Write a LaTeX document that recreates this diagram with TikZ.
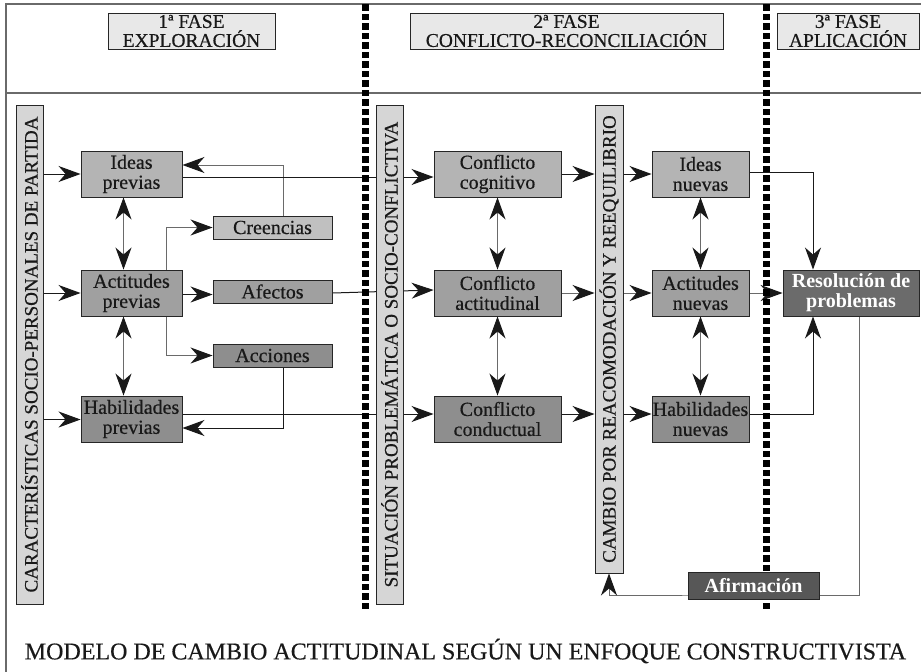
\documentclass[tikz,border=0pt]{standalone}
\usepackage{fontspec}
\setmainfont{Liberation Serif}[UprightFeatures={FakeBold=0.5}]
\usetikzlibrary{arrows.meta}
\definecolor{framegray}{HTML}{6A6A6A}
\definecolor{linedark}{HTML}{1A1A1A}
\definecolor{linegray}{HTML}{6A6A6A}
\definecolor{hdrfill}{HTML}{E8E8E8}
\definecolor{vertfill}{HTML}{D6D6D6}
\definecolor{lightfill}{HTML}{B4B4B4}
\definecolor{crefill}{HTML}{C0C0C0}
\definecolor{midfill}{HTML}{A0A0A0}
\definecolor{darkfill}{HTML}{8E8E8E}
\definecolor{resfill}{HTML}{6B6B6B}
\definecolor{afifill}{HTML}{575757}
\begin{document}
\begin{tikzpicture}[x=1pt,y=-1pt,
  box/.style={draw=black!85, line width=0.9pt, inner sep=0pt, align=center, text=black!90,
    font=\fontsize{20}{20}\selectfont},
  hdr/.style={box, fill=hdrfill, minimum height=36, font=\fontsize{19.5}{19}\selectfont},
  vert/.style={box, fill=vertfill, rotate=90, font=\fontsize{19}{19}\selectfont},
  big/.style={box, minimum height=46},
  small/.style={box, minimum width=119, minimum height=23},
  wbox/.style={box, text=white, font=\bfseries\fontsize{20}{20}\selectfont},
  tip/.tip={Stealth[length=22pt,width=16pt,inset=7pt,color=black!90]},
  arr/.style={-tip, line width=1pt, draw=linedark},
  darr/.style={tip-tip, line width=1pt, draw=linegray},
  sq/.style={fill=black}
]
\useasboundingbox (0,0) rectangle (921,672);
% frame
\draw[framegray, line width=2pt] (6,672) -- (6,4) -- (921,4);
\draw[framegray, line width=2.5pt] (6,93) -- (921,93);

% headers
\node[hdr, minimum width=167] (h1) at (191.5,31) {1ª FASE\\EXPLORACIÓN};
\node[hdr, minimum width=313] (h2) at (566.5,31) {2ª FASE\\CONFLICTO-RECONCILIACIÓN};
\node[hdr, minimum width=142] (h3) at (848,31) {3ª FASE\\APLICACIÓN};

% node positions (named, drawn again on top later)
\path
  (131.5,174) node[big, minimum width=101, fill=lightfill] (ip) {Ideas\\previas}
  (131.5,293) node[big, minimum width=101, fill=midfill] (ap) {Actitudes\\previas}
  (131.5,419) node[big, minimum width=101, fill=darkfill] (hp) {Habilidades\\previas}
  (272.5,227.5) node[small, fill=crefill] (cre) {Creencias}
  (272.5,291.5) node[small, fill=midfill] (afe) {Afectos}
  (272.5,355.5) node[small, fill=darkfill] (acc) {Acciones}
  (497.5,174) node[big, minimum width=127, fill=lightfill] (cc) {Conflicto\\cognitivo}
  (497.5,293) node[big, minimum width=127, fill=midfill] (ca) {Conflicto\\actitudinal}
  (497.5,419) node[big, minimum width=127, fill=darkfill] (cd) {Conflicto\\conductual}
  (700.5,174) node[big, minimum width=97, fill=lightfill] (in) {Ideas\\nuevas}
  (700.5,293) node[big, minimum width=97, fill=midfill] (an) {Actitudes\\nuevas}
  (700.5,419) node[big, minimum width=97, fill=darkfill] (hn) {Habilidades\\nuevas}
  (851,293) node[wbox, minimum width=136, minimum height=46, fill=resfill] (res) {Resolución de\\problemas}
  (29.5,354.5) node[vert, minimum width=499, minimum height=27] (v1) {CARACTERÍSTICAS SOCIO-PERSONALES DE PARTIDA}
  (389.5,354.5) node[vert, minimum width=499, minimum height=27] (v2) {SITUACIÓN PROBLEMÁTICA O SOCIO-CONFLICTIVA}
  (609,339) node[vert, minimum width=468, minimum height=28] (v3) {CAMBIO POR REACOMODACIÓN Y REEQUILIBRIO};

% connectors
\draw[arr] (v1.south |- ip.west) -- (ip.west);
\draw[arr] (v1.south |- ap.west) -- (ap.west);
\draw[arr] ([yshift=-0.5pt]v1.south |- hp.west) -- ([yshift=-0.5pt]hp.west);
\draw[darr] ([xshift=-8pt]ip.south) -- ([xshift=-8pt]ap.north);
\draw[darr] ([xshift=-8pt]ap.south) -- ([xshift=-8pt]hp.north);
\draw[arr, draw=linegray] ([xshift=34.5pt]ap.north) |- (cre.west);
\draw[arr, draw=linegray] ([xshift=34.5pt]ap.south) |- (acc.west);
\draw[arr] ([yshift=-1.5pt]ap.east) -- ([yshift=-1.5pt]ap.east -| afe.west);
\draw[arr, draw=linegray] ([xshift=10.5pt]cre.north) |- ([yshift=9pt]ip.east);
\draw[arr] ([xshift=10.5pt]acc.south) |- ([yshift=-9pt]hp.east);
\draw[arr] ([yshift=-3pt]ip.east) -- ([yshift=-3pt]cc.west);
\draw[arr] ([yshift=-1.5pt]afe.east) -- ([yshift=1.5pt]afe.east -| ca.west);
\draw[arr] ([yshift=5pt]hp.east) -- ([yshift=5pt]cd.west);
\draw[darr] (cc.south) -- (ca.north);
\draw[darr] (ca.south) -- (cd.north);
\draw[arr] (cc.east) -- (cc.east -| v3.north);
\draw[arr, draw=linegray] (ca.east) -- (ca.east -| v3.north);
\draw[arr] ([yshift=5pt]cd.east) -- ([yshift=5pt]cd.east -| v3.north);
\draw[arr] (in.west -| v3.south) -- (in.west);
\draw[arr, draw=linegray] (an.west -| v3.south) -- (an.west);
\draw[arr] ([yshift=5pt]hn.west -| v3.south) -- ([yshift=5pt]hn.west);
\draw[darr] (in.south) -- (an.north);
\draw[darr] (an.south) -- (hn.north);
\draw[arr] ([yshift=2pt]in.east) -| ([xshift=-38pt]res.north);
\draw[arr, draw=linegray] (an.east) -- (res.west);
\draw[arr] ([yshift=5pt]hn.east) -| ([xshift=-38pt]res.south);
\coordinate (afc) at (753.5,585.5);
\draw[arr, draw=linegray] ([xshift=8pt]res.south) |- ([yshift=-9.5pt]afc) -| (v3.west);

% dotted separators (square dots)
\foreach \yy in {4,13.5,...,604} \fill[sq] (361.5,\yy) rectangle (368.5,\yy+6.5);
\foreach \yy in {4,13.5,...,604} \fill[sq] (762.5,\yy) rectangle (769.5,\yy+6.5);

% redraw nodes on top
\path
  (131.5,174) node[big, minimum width=101, fill=lightfill] {Ideas\\previas}
  (131.5,293) node[big, minimum width=101, fill=midfill] {Actitudes\\previas}
  (131.5,419) node[big, minimum width=101, fill=darkfill] {Habilidades\\previas}
  (272.5,227.5) node[small, fill=crefill] {Creencias}
  (272.5,291.5) node[small, fill=midfill] {Afectos}
  (272.5,355.5) node[small, fill=darkfill] {Acciones}
  (497.5,174) node[big, minimum width=127, fill=lightfill] {Conflicto\\cognitivo}
  (497.5,293) node[big, minimum width=127, fill=midfill] {Conflicto\\actitudinal}
  (497.5,419) node[big, minimum width=127, fill=darkfill] {Conflicto\\conductual}
  (700.5,174) node[big, minimum width=97, fill=lightfill] {Ideas\\nuevas}
  (700.5,293) node[big, minimum width=97, fill=midfill] {Actitudes\\nuevas}
  (700.5,419) node[big, minimum width=97, fill=darkfill] {Habilidades\\nuevas}
  (851,293) node[wbox, minimum width=136, minimum height=46, fill=resfill] {Resolución de\\problemas}
  (29.5,354.5) node[vert, minimum width=499, minimum height=27] {CARACTERÍSTICAS SOCIO-PERSONALES DE PARTIDA}
  (389.5,354.5) node[vert, minimum width=499, minimum height=27] {SITUACIÓN PROBLEMÁTICA O SOCIO-CONFLICTIVA}
  (609,339) node[vert, minimum width=468, minimum height=28] {CAMBIO POR REACOMODACIÓN Y REEQUILIBRIO};
\node[wbox, minimum width=131, minimum height=27, fill=afifill] (afi) at (afc) {Afirmación};

% caption
\node[font=\fontsize{24}{24}\selectfont, text=black!90, inner sep=0pt] (cap) at (465.5,651)
  {MODELO DE CAMBIO ACTITUDINAL SEGÚN UN ENFOQUE CONSTRUCTIVISTA};
\end{tikzpicture}
\end{document}
